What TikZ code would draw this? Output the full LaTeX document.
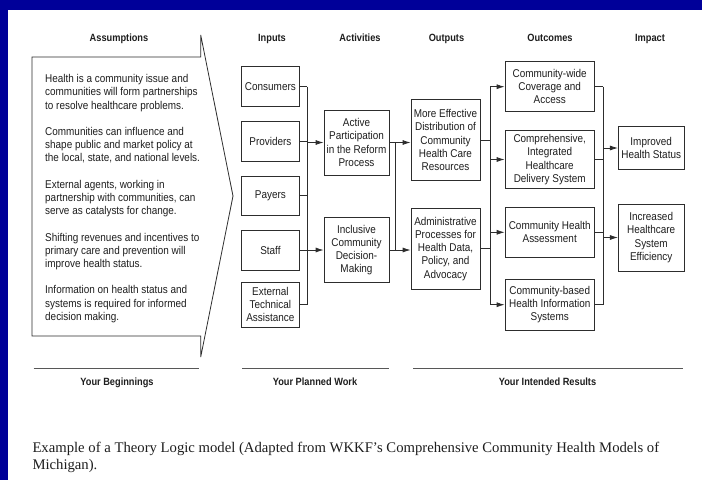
\documentclass[tikz,border=0pt]{standalone}
\usepackage{fontspec}
\setmainfont{Liberation Serif}
\newfontfamily\cond[FakeStretch=0.88]{Liberation Sans}
\usetikzlibrary{arrows.meta}
\definecolor{bgblue}{RGB}{0,0,153}
\definecolor{ln}{RGB}{45,45,45}
\definecolor{tx}{RGB}{30,30,30}
\begin{document}
\begin{tikzpicture}[x={(1pt,0pt)},y={(0pt,-1pt)},
  box/.style={draw=ln,line width=0.8pt,align=center,inner sep=0pt,text=tx,
    font=\cond\fontsize{11.3}{13.2}\selectfont},
  inbox/.style={box,minimum width=57.3pt},
  actbox/.style={box,minimum width=65pt},
  outbox/.style={box,minimum width=69pt},
  ocbox/.style={box,minimum width=89.3pt},
  impbox/.style={box,minimum width=65.7pt},
  hdr/.style={anchor=base,text=tx,inner sep=0pt,font=\cond\bfseries\fontsize{10.5}{12}\selectfont},
  atext/.style={align=left,inner sep=0pt,text=tx,font=\cond\fontsize{11.3}{13.2}\selectfont},
  wire/.style={draw=ln,line width=0.8pt},
  arr/.style={wire,-{Latex[length=8pt,width=5pt]}},
  rule/.style={draw=ln!80,line width=1pt}]
\useasboundingbox (0,0) rectangle (702,480);
\fill[bgblue] (0,0) rectangle (702,480);
\fill[white] (8,10) rectangle (702,480);

% headers
\node[hdr] (hA) at (119,41) {Assumptions};
\node[hdr] (hI) at (272,41) {Inputs};
\node[hdr] (hAc) at (360,41) {Activities};
\node[hdr] (hO) at (446.5,41) {Outputs};
\node[hdr] (hOc) at (550,41) {Outcomes};
\node[hdr] (hIm) at (650,41) {Impact};

% assumptions arrow
\draw[wire] (32,57) -- (200.7,57) -- (200.7,35) -- (233,196) -- (200.7,357) -- (200.7,336) -- (32,336) -- cycle;
\node[atext,anchor=north west] (asm) at (45,74.3) {Health is a community issue and\\communities will form partnerships\\to resolve healthcare problems.\\[13.2pt]
Communities can influence and\\shape public and market policy at\\the local, state, and national levels.\\[13.2pt]
External agents, working in\\partnership with communities, can\\serve as catalysts for change.\\[13.2pt]
Shifting revenues and incentives to\\primary care and prevention will\\improve health status.\\[13.2pt]
Information on health status and\\systems is required for informed\\decision making.};

% inputs
\node[inbox,minimum height=40pt] (cons) at (270.4,86.7) {Consumers};
\node[inbox,minimum height=40.7pt] (prov) at (270.4,141.3) {Providers};
\node[inbox,minimum height=39.7pt] (pay) at (270.4,195.8) {Payers};
\node[inbox,minimum height=40pt] (staff) at (270.4,250.7) {Staff};
\node[inbox,minimum height=45pt] (ext) at (270.4,304.5) {External\\Technical\\Assistance};

% activities
\node[actbox,minimum height=65pt] (act) at (356.5,142.5) {Active\\Participation\\in the Reform\\Process};
\node[actbox,minimum height=64.6pt] (inc) at (356.5,250) {Inclusive\\Community\\Decision-\\Making};

% outputs
\node[outbox,minimum height=81.4pt] (meff) at (445.5,140) {More Effective\\Distribution of\\Community\\Health Care\\Resources};
\node[outbox,minimum height=81pt] (adm) at (445.5,248.8) {Administrative\\Processes for\\Health Data,\\Policy, and\\Advocacy};

% outcomes
\node[ocbox,minimum height=50pt] (cw) at (549.7,86.7) {Community-wide\\Coverage and\\Access};
\node[ocbox,minimum height=57.6pt] (comp) at (549.7,159.5) {Comprehensive,\\Integrated\\Healthcare\\Delivery System};
\node[ocbox,minimum height=50pt] (cha) at (549.7,232.3) {Community Health\\Assessment};
\node[ocbox,minimum height=50.7pt] (cb) at (549.7,304.7) {Community-based\\Health Information\\Systems};

% impact
\node[impbox,minimum height=42.6pt] (imp) at (651.2,148) {Improved\\Health Status};
\node[impbox,minimum height=67pt] (incr) at (651.2,237.5) {Increased\\Healthcare\\System\\Efficiency};

% buses
\coordinate (bA) at (307.3,0);
\coordinate (bB) at (395,0);
\coordinate (bC) at (490,0);
\coordinate (bD) at (603.3,0);

\foreach \n in {cons,prov,pay,staff,ext} \draw[wire] (\n.east) -- (\n.east -| bA);
\draw[wire] (cons.east -| bA) -- (ext.east -| bA);
\draw[arr] (act.west -| bA) -- (act.west);
\draw[arr] (inc.west -| bA) -- (inc.west);

\draw[arr] (act.east) -- (act.east -| meff.west);
\draw[arr] (inc.east) -- (inc.east -| adm.west);
\draw[wire] (act.east -| bB) -- (inc.east -| bB);

\draw[wire] (meff.east) -- (meff.east -| bC);
\draw[wire] (adm.east) -- (adm.east -| bC);
\draw[wire] (cw.west -| bC) -- (cb.west -| bC);
\foreach \n in {cw,comp,cha,cb} \draw[arr] (\n.west -| bC) -- (\n.west);

\foreach \n in {cw,comp,cha,cb} \draw[wire] (\n.east) -- (\n.east -| bD);
\draw[wire] (cw.east -| bD) -- (cb.east -| bD);
\draw[arr] (imp.west -| bD) -- (imp.west);
\draw[arr] (incr.west -| bD) -- (incr.west);

% bottom rules and labels
\coordinate (r1a) at (33.6,368); \coordinate (r1b) at (199,368);
\coordinate (r2a) at (242,368); \coordinate (r2b) at (388.5,368);
\coordinate (r3a) at (413,368); \coordinate (r3b) at (682.6,368);
\draw[rule] (r1a) -- (r1b);
\draw[rule] (r2a) -- (r2b);
\draw[rule] (r3a) -- (r3b);
\node[hdr] (yb) at (117,385) {Your Beginnings};
\node[hdr] (yp) at (315,385) {Your Planned Work};
\node[hdr] (yr) at (547.5,385) {Your Intended Results};

% caption
\node[anchor=base west,inner sep=0pt,text=tx,font=\fontsize{14.7}{17.5}\selectfont] (cap1) at (32.3,452) {Example of a Theory Logic model (Adapted from WKKF’s Comprehensive Community Health Models of};
\node[anchor=base west,inner sep=0pt,text=tx,font=\fontsize{14.7}{17.5}\selectfont] (cap2) at (32.3,469.5) {Michigan).};
\end{tikzpicture}
\end{document}
